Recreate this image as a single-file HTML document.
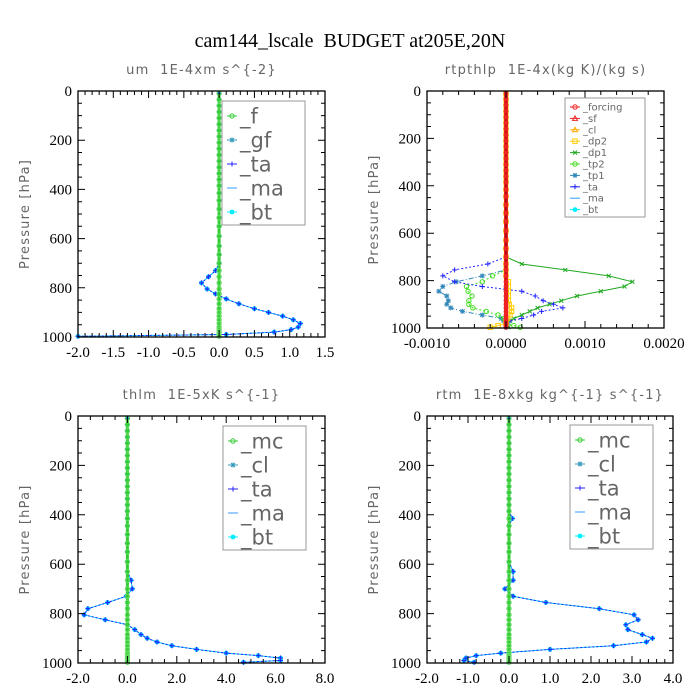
<!DOCTYPE html>
<html><head><meta charset="utf-8"><style>
html,body{margin:0;padding:0;background:#fff;}
svg{display:block;}
.tl{font-family:"Liberation Serif",serif;font-size:15px;fill:#000;}
.pt{font-family:"DejaVu Sans","Liberation Sans",sans-serif;font-size:13px;fill:#666;white-space:pre;letter-spacing:1.2px;}
.lg{font-family:"DejaVu Sans","Liberation Sans",sans-serif;fill:#666;}
</style></head><body>
<svg id="chart" width="700" height="700" viewBox="0 0 700 700">
<text x="350" y="47" text-anchor="middle" font-family="Liberation Serif,serif" font-size="20" fill="#000" style="white-space:pre">cam144_lscale  BUDGET at205E,20N</text>
</svg>
<script>
const levels=[10,35,60,85,110,135,160,185,210,235,260,285,310,335,360,385,415,445,480,515,550,590,630,665,700,730,755,780,805,825,845,865,885,900,915,930,945,960,970,980,990,997];
const Z24=[0,0,0,0,0,0,0,0,0,0,0,0,0,0,0,0,0,0,0,0,0,0,0,0];
// um
const umBt=Z24.concat([0,-0.05,-0.15,-0.25,-0.17,-0.05,0.1,0.28,0.5,0.7,0.9,1.05,1.15,1.12,1.02,0.78,0.1,-2.0]);
// rtpthlp
const rpDp1=Z24.concat([0,0.0002,0.00075,0.0013,0.0016,0.0015,0.0012,0.0009,0.0007,0.00055,0.0004,0.0003,0.0002,0.0001,0.00005,0.0,0.00002,0.00003]);
const rpTa=Z24.concat([0,-0.00023,-0.00065,-0.0008,-0.00065,-0.0003,0.0002,0.00037,0.00047,0.0006,0.00072,0.00045,0.00035,0.0002,0.00005,0.0,0,0]);
const rpTp1=Z24.concat([0,0,0,-0.0003,-0.00063,-0.0008,-0.00085,-0.00075,-0.00073,-0.00075,-0.0007,-0.00055,-0.0003,-0.00006,-0.00003,0.0,0.0,0.0]);
const rpTp2=Z24.concat([0,0,0,-0.00017,-0.0003,-0.0005,-0.00048,-0.00043,-0.00047,-0.00047,-0.00042,-0.00025,-0.0001,-0.00003,0.0,0.0,0.0001,0.00018]);
const rpDp2=Z24.concat([0,0,0,0,0.00003,0.00003,0.00003,0.00003,0.00003,0.00004,0.00007,0.00007,0.00005,0.00002,0,0,-0.0001,-0.0002]);
// thlm
const thBt=Z24.slice(0,23).concat([0.15,0.2,-0.05,-0.8,-1.6,-1.75,-0.9,0,0.3,0.55,0.8,1.2,1.8,2.8,4.0,5.3,6.2,6.2,4.7]);
// rtm
const rtBt=Z24.slice(0,16).concat([0.08,0,0,0,0,0,0.1,0.1,-0.1,0.1,0.9,2.2,3.05,3.15,2.85,2.9,3.25,3.5,3.35,2.55,1.0,-0.2,-0.8,-1.05,-1.1,-0.85]);
const zeros=levels.map(()=>0);

const NS="http://www.w3.org/2000/svg";
const svg=document.getElementById('chart');
function mk(tag,attrs,name,parent){
  const el=document.createElementNS(NS,tag);
  for(const k in attrs) el.setAttribute(k,attrs[k]);
  
  
  (parent||svg).appendChild(el);
  return el;
}
function marker(g,type,x,y,c){
  if(type==='o') mk('circle',{cx:x,cy:y,r:2.2,fill:'none',stroke:c,'stroke-width':1},'marker',g);
  else if(type==='dot') mk('circle',{cx:x,cy:y,r:2.4,fill:c},'marker',g);
  else if(type==='+') mk('path',{d:`M${x-2.5},${y}h5M${x},${y-2.5}v5`,stroke:c,'stroke-width':1},'marker',g);
  else if(type==='x') mk('path',{d:`M${x-2},${y-2}l4,4M${x-2},${y+2}l4,-4`,stroke:c,'stroke-width':1},'marker',g);
  else if(type==='*') mk('path',{d:`M${x-2.5},${y}h5M${x},${y-2.5}v5M${x-2},${y-2}l4,4M${x-2},${y+2}l4,-4`,stroke:c,'stroke-width':1},'marker',g);
  else if(type==='s') mk('rect',{x:x-2.2,y:y-2.2,width:4.4,height:4.4,fill:'none',stroke:c,'stroke-width':1},'marker',g);
  else if(type==='^') mk('path',{d:`M${x},${y-2.5}l2.5,4.5h-5z`,fill:'none',stroke:c,'stroke-width':1},'marker',g);
}
function panel(P){
  const g=mk('g',{},P.name);
  const sx=v=>P.x0+(v-P.xmin)/(P.xmax-P.xmin)*(P.x1-P.x0);
  const sy=p=>P.y0+p/1000*(P.y1-P.y0);
  mk('text',{x:(P.x0+P.x1)/2,y:P.y0-17,'text-anchor':'middle',class:'pt'},'panel-title',g).textContent=P.title;
  const yl=mk('text',{x:0,y:0,'text-anchor':'middle',class:'pt',transform:`translate(${P.x0-49},${(P.y0+P.y1)/2}) rotate(-90)`,'font-size':'16'},'y-axis-title',g);
  yl.textContent='Pressure [hPa]';
  P.series.forEach(s=>{
    const sg=mk('g',{},'series-'+s.label.replace('_',''),g);
    const pts=s.vals.map((v,i)=>sx(v).toFixed(1)+','+sy(levels[i]).toFixed(1)).join(' ');
    mk('polyline',{points:pts,fill:'none',stroke:s.color,'stroke-width':s.w||1,'stroke-dasharray':s.dash||''},'series-line',sg);
    if(s.inner) mk('polyline',{points:pts,fill:'none',stroke:s.inner,'stroke-width':1.2},'series-line-inner',sg);
    if(s.m) s.vals.forEach((v,i)=>marker(sg,s.m,sx(v),sy(levels[i]),s.mc||s.color));
  });
  mk('rect',{x:P.x0,y:P.y0,width:P.x1-P.x0,height:P.y1-P.y0,fill:'none',stroke:'#000','stroke-width':1.3},'plot-frame',g);
  for(let p=0;p<=1000;p+=50){
    const y=sy(p),L=(p%200===0)?7:4;
    mk('path',{d:`M${P.x0},${y}h${L}M${P.x1},${y}h${-L}`,stroke:'#000','stroke-width':1},'y-tick',g);
    if(p%200===0) mk('text',{x:P.x0-6,y:y+5,'text-anchor':'end',class:'tl'},'y-tick-label',g).textContent=p;
  }
  const n=Math.round((P.xmax-P.xmin)/P.minor);
  for(let i=0;i<=n;i++){
    const v=P.xmin+i*P.minor,x=sx(v);
    const k=Math.round((v-P.xmin)/P.major*1e6)/1e6,isMaj=Math.abs(k-Math.round(k))<1e-6;
    const L=isMaj?7:4;
    mk('path',{d:`M${x},${P.y1}v${-L}M${x},${P.y0}v${L}`,stroke:'#000','stroke-width':1},'x-tick',g);
    if(isMaj) mk('text',{x:x,y:P.y1+20,'text-anchor':'middle',class:'tl'},'x-tick-label',g).textContent=(Math.abs(v)<1e-12?0:v).toFixed(P.dec);
  }
  const L=P.legend;
  const lg=mk('g',{},'legend',g);
  mk('rect',{x:L.x,y:L.y,width:L.w,height:L.h,fill:'#fff',stroke:'#999','stroke-width':1},'legend-box',lg);
  L.items.forEach((it,i)=>{
    const y=L.y+L.top+i*L.dy;
    mk('path',{d:`M${L.x+L.mx-5},${y}h10`,stroke:it.c,'stroke-width':1},'legend-swatch',lg);
    marker(lg,it.m,L.x+L.mx,y,it.c);
    const t=mk('text',{x:L.x+L.mx+8,y:y+L.fs*0.35,class:'lg','font-size':L.fs},'legend-entry',lg);
    t.textContent=it.t;
  });
}
const greenZero={label:'_mc',vals:zeros,color:'#33cc33',w:3,m:'o',mc:'#66dd66'};
const stdLegend=(x,y,names)=>({x:x,y:y,w:83,h:124,top:15,dy:24,mx:10,fs:21,items:[
 {t:names[0],c:'#33cc33',m:'o'},{t:names[1],c:'#3399bb',m:'*'},{t:'_ta',c:'#2222ff',m:'+'},{t:'_ma',c:'#3399ff',m:'-'},{t:'_bt',c:'#00eeff',m:'dot'}]});
panel({name:'panel-um',title:'um  1E-4xm s^{-2}',x0:78,x1:325,y0:91,y1:337,xmin:-2,xmax:1.5,major:0.5,minor:0.1,dec:1,
 series:[{label:'_bt',vals:umBt,color:'#00ccff',m:'dot'},{label:'_ta',vals:umBt,color:'#2222ff',dash:'2,2',m:'+'},greenZero],
 legend:stdLegend(222,101,['_f','_gf'])});
panel({name:'panel-rtpthlp',title:'rtpthlp  1E-4x(kg K)/(kg s)',x0:427,x1:664,y0:91,y1:328,xmin:-0.001,xmax:0.002,major:0.001,minor:0.0002,dec:4,
 series:[{label:'_dp1',vals:rpDp1,color:'#22aa22',m:'x'},{label:'_tp1',vals:rpTp1,color:'#3388bb',dash:'5,2,1,2',m:'*'},
  {label:'_tp2',vals:rpTp2,color:'#44dd22',dash:'2,2',m:'o'},{label:'_ta',vals:rpTa,color:'#2222ff',dash:'2,2',m:'+'},
  {label:'_dp2',vals:rpDp2,color:'#ffcc00',m:'s'},{label:'_sf',vals:zeros,color:'#ee2222',w:4,inner:'#880000',m:'dot',mc:'#ee2222'}],
 legend:{x:565,y:98,w:80,h:119,top:9,dy:11.4,mx:10,fs:10,items:[
  {t:'_forcing',c:'#ee2222',m:'o'},{t:'_sf',c:'#ee2222',m:'^'},{t:'_cl',c:'#ffaa00',m:'^'},{t:'_dp2',c:'#ffcc00',m:'s'},{t:'_dp1',c:'#22aa22',m:'x'},
  {t:'_tp2',c:'#44dd22',m:'o'},{t:'_tp1',c:'#3388bb',m:'*'},{t:'_ta',c:'#2222ff',m:'+'},{t:'_ma',c:'#3399ff',m:'-'},{t:'_bt',c:'#00eeff',m:'dot'}]}});
panel({name:'panel-thlm',title:'thlm  1E-5xK s^{-1}',x0:78,x1:325,y0:416,y1:663,xmin:-2,xmax:8,major:2,minor:0.5,dec:1,
 series:[{label:'_bt',vals:thBt,color:'#00ccff',m:'dot'},{label:'_ta',vals:thBt,color:'#2222ff',dash:'2,2',m:'+'},greenZero],
 legend:stdLegend(223,426,['_mc','_cl'])});
panel({name:'panel-rtm',title:'rtm  1E-8xkg kg^{-1} s^{-1}',x0:427,x1:673,y0:416,y1:663,xmin:-2,xmax:4,major:1,minor:0.2,dec:1,
 series:[{label:'_bt',vals:rtBt,color:'#00ccff',m:'dot'},{label:'_ta',vals:rtBt,color:'#2222ff',dash:'2,2',m:'+'},greenZero],
 legend:stdLegend(570,425,['_mc','_cl'])});
</script>
</body></html>
